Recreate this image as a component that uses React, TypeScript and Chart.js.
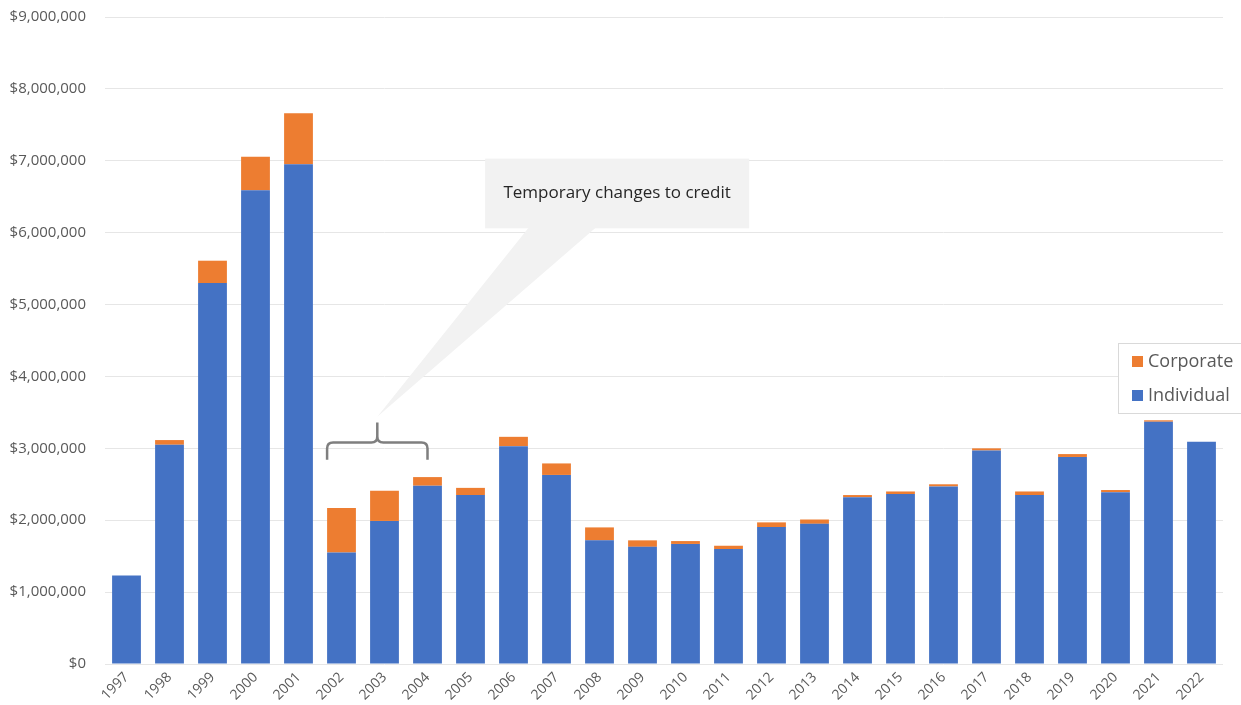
import React, { useEffect, useRef } from "react";
import { Chart, registerables } from "chart.js";

Chart.register(...registerables);

const years = [
  "1997", "1998", "1999", "2000", "2001", "2002", "2003", "2004", "2005",
  "2006", "2007", "2008", "2009", "2010", "2011", "2012", "2013", "2014",
  "2015", "2016", "2017", "2018", "2019", "2020", "2021", "2022",
];

const individual = [
  1230000, 3050000, 5300000, 6590000, 6950000, 1550000, 1990000, 2480000, 2350000,
  3030000, 2630000, 1720000, 1630000, 1670000, 1600000, 1905000, 1950000, 2320000,
  2365000, 2470000, 2970000, 2350000, 2880000, 2390000, 3370000, 3090000,
];

const corporate = [
  0, 65000, 310000, 465000, 710000, 620000, 420000, 120000, 100000,
  130000, 160000, 180000, 90000, 40000, 45000, 65000, 60000, 30000,
  35000, 30000, 30000, 50000, 40000, 30000, 20000, 0,
];

const yTicks = [0, 1000000, 2000000, 3000000, 4000000, 5000000, 6000000, 7000000, 8000000, 9000000];

const calloutText = "Temporary changes to credit";
const legendItems = [
  { label: "Corporate", color: "#ED7D31" },
  { label: "Individual", color: "#4472C4" },
];

const BLUE = "#4472C4";
const ORANGE = "#ED7D31";
const TEXT = "#595959";
const FONT = "'Open Sans', 'Liberation Sans', sans-serif";
const CAT_PCT = 0.67;

const overlayPlugin = {
  id: "overlay",
  afterDraw(chart: any) {
    const ctx = chart.ctx;
    const xs = chart.scales.x;
    const ys = chart.scales.y;
    const step = xs.getPixelForValue(1) - xs.getPixelForValue(0);
    const barW = step * CAT_PCT;

    // Callout (speech bubble)
    const bx0 = xs.getPixelForValue(8.34);
    const bx1 = xs.getPixelForValue(14.48);
    const by0 = ys.getPixelForValue(7030000);
    const by1 = ys.getPixelForValue(6060000);
    const left = xs.getPixelForValue(5) - barW / 2;
    const right = xs.getPixelForValue(7);
    const mid = (left + right) / 2;
    const tipY = ys.getPixelForValue(3440000);

    ctx.save();
    ctx.fillStyle = "#F2F2F2";
    ctx.fillRect(bx0, by0, bx1 - bx0, by1 - by0);
    ctx.beginPath();
    ctx.moveTo(xs.getPixelForValue(9.35), by1 - 0.5);
    ctx.lineTo(xs.getPixelForValue(10.91), by1 - 0.5);
    ctx.lineTo(mid, tipY);
    ctx.closePath();
    ctx.fill();

    ctx.fillStyle = "#262626";
    ctx.font = `17px ${FONT}`;
    ctx.textAlign = "center";
    ctx.textBaseline = "middle";
    ctx.fillText(calloutText, (bx0 + bx1) / 2, (by0 + by1) / 2);

    // Curly bracket
    const yEnd = ys.getPixelForValue(2840000);
    const yBar = ys.getPixelForValue(3080000);
    const yTop = ys.getPixelForValue(3360000);
    const r = 6;
    ctx.strokeStyle = "#7F7F7F";
    ctx.lineWidth = 2.5;
    ctx.lineCap = "butt";
    ctx.beginPath();
    ctx.moveTo(left, yEnd);
    ctx.lineTo(left, yBar + r);
    ctx.quadraticCurveTo(left, yBar, left + r, yBar);
    ctx.lineTo(mid - r, yBar);
    ctx.quadraticCurveTo(mid, yBar, mid, yBar - r);
    ctx.lineTo(mid, yTop);
    ctx.moveTo(mid, yBar - r);
    ctx.quadraticCurveTo(mid, yBar, mid + r, yBar);
    ctx.lineTo(right - r, yBar);
    ctx.quadraticCurveTo(right, yBar, right, yBar + r);
    ctx.lineTo(right, yEnd);
    ctx.stroke();

    // Legend
    const lx = 1118.5;
    const ly = 343.5;
    ctx.fillStyle = "#FFFFFF";
    ctx.fillRect(lx, ly, 140, 70);
    ctx.strokeStyle = "#D9D9D9";
    ctx.lineWidth = 1;
    ctx.strokeRect(lx, ly, 140, 70);
    ctx.font = `18px ${FONT}`;
    ctx.textAlign = "left";
    ctx.textBaseline = "middle";
    legendItems.forEach((it, i) => {
      const cy = 361 + i * 34;
      ctx.fillStyle = it.color;
      ctx.fillRect(1132, cy - 5, 11, 11);
      ctx.fillStyle = TEXT;
      ctx.fillText(it.label, 1148, cy + 1);
    });
    ctx.restore();
  },
};

export default function App() {
  const ref = useRef<HTMLCanvasElement>(null);

  useEffect(() => {
    if (!ref.current) return;
    const chart = new Chart(ref.current, {
      type: "bar",
      data: {
        labels: years,
        datasets: [
          {
            label: "Individual",
            data: individual,
            backgroundColor: BLUE,
            borderWidth: 0,
            categoryPercentage: CAT_PCT,
            barPercentage: 1,
          },
          {
            label: "Corporate",
            data: corporate,
            backgroundColor: ORANGE,
            borderWidth: 0,
            categoryPercentage: CAT_PCT,
            barPercentage: 1,
          },
        ],
      },
      options: {
        responsive: false,
        animation: false,
        devicePixelRatio: 1,
        layout: { padding: { left: 8, right: 18, top: 17, bottom: 0 } },
        plugins: {
          legend: { display: false },
          tooltip: { enabled: false },
          title: { display: false },
        },
        scales: {
          x: {
            stacked: true,
            grid: { display: false, drawTicks: false },
            border: { display: false },
            ticks: {
              autoSkip: false,
              maxRotation: 45,
              minRotation: 45,
              padding: 5,
              color: TEXT,
              font: { family: FONT, size: 14 },
            },
            afterFit: (s: any) => {
              s.height = 41;
              s.paddingTop = 0;
              s.paddingBottom = 0;
              s.paddingLeft = 0;
              s.paddingRight = 0;
            },
          },
          y: {
            stacked: true,
            min: 0,
            max: 9000000,
            afterBuildTicks: (s: any) => {
              s.ticks = yTicks.map((v) => ({ value: v }));
            },
            grid: { color: "#E6E6E6", lineWidth: 1, drawTicks: false },
            border: { display: false },
            ticks: {
              padding: 19,
              color: TEXT,
              font: { family: FONT, size: 15 },
              callback: (v: any) => "$" + Number(v).toLocaleString("en-US"),
            },
            afterFit: (s: any) => {
              s.width = 97;
              s.paddingTop = 0;
              s.paddingBottom = 0;
            },
          },
        },
      },
      plugins: [overlayPlugin],
    });
    return () => chart.destroy();
  }, []);

  return (
    <div style={{ position: "fixed", left: 0, top: 0, width: 1241, height: 705, background: "#fff" }}>
      <canvas ref={ref} width={1241} height={705} style={{ display: "block" }} />
    </div>
  );
}
